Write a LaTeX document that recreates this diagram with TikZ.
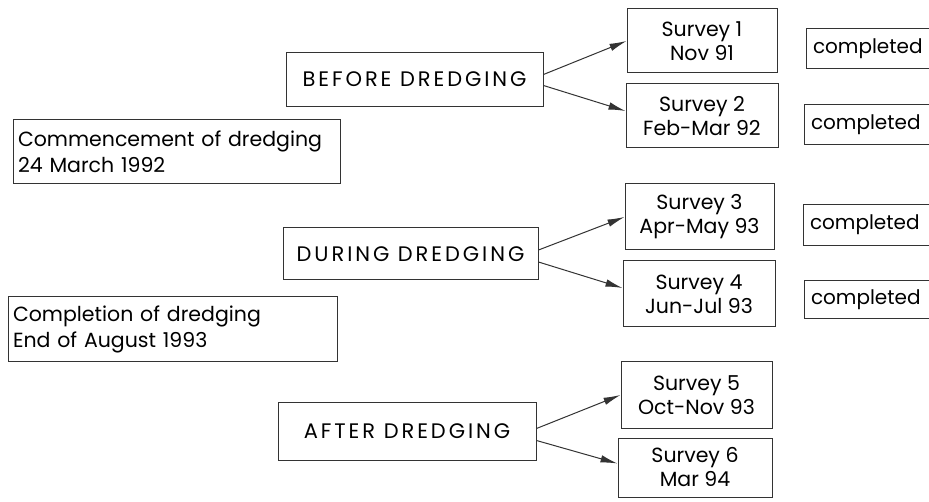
\documentclass[tikz,border=0pt]{standalone}
\usepackage{fontspec}
\setmainfont{Poppins}
\usetikzlibrary{arrows.meta}
\begin{document}
\begin{tikzpicture}[x=1pt,y=-1pt,
  box/.style={draw=black!80, line width=1pt, rectangle, inner sep=0pt},
  phase/.style={box, font=\fontsize{21}{24}\selectfont\addfontfeatures{LetterSpace=14}},
  survey/.style={box, align=center, font=\fontsize{20.5}{24}\selectfont},
  note/.style={box, inner xsep=5pt, align=left, font=\fontsize{20.5}{26}\selectfont},
  done/.style={rectangle, inner sep=0pt, inner xsep=6pt, align=left, font=\fontsize{20}{22}\selectfont},
  openbox/.style={draw=black!80, line width=1pt},
  arr/.style={draw=black!80, line width=1pt, -{Latex[length=17pt,width=7.5pt]}}]
\useasboundingbox (0,0) rectangle (929,502);
\fill[white] (0,0) rectangle (929,502);
% phase boxes
\node[phase, minimum width=257pt, minimum height=54pt] (before) at (414.5,79.5) {BEFORE DREDGING};
\node[phase, minimum width=255pt, minimum height=52pt] (during) at (410.5,254) {DURING DREDGING};
\node[phase, minimum width=258pt, minimum height=57pt] (after) at (407,431.5) {AFTER DREDGING};
% survey boxes
\node[survey, minimum width=150pt, minimum height=64pt] (s1) at (702,41) {Survey 1\\Nov 91};
\node[survey, minimum width=152pt, minimum height=64pt] (s2) at (702,116) {Survey 2\\Feb-Mar 92};
\node[survey, minimum width=149pt, minimum height=66pt] (s3) at (699.5,217) {Survey 3\\Apr-May 93};
\node[survey, minimum width=152pt, minimum height=66pt] (s4) at (699,294) {Survey 4\\Jun-Jul 93};
\node[survey, minimum width=151pt, minimum height=66pt] (s5) at (696.5,395) {Survey 5\\Oct-Nov 93};
\node[survey, minimum width=154pt, minimum height=59pt] (s6) at (695,467.5) {Survey 6\\Mar 94};
% completed boxes (their right side is cut off by the edge)
\node[done, text width=110pt, minimum height=39pt] (c1) at (868,48.5) {completed};
\node[done, text width=112pt, minimum height=39pt] (c2) at (867,124.5) {completed};
\node[done, text width=113pt, minimum height=40pt] (c3) at (866.5,225) {completed};
\node[done, text width=112pt, minimum height=37pt] (c4) at (867,299.5) {completed};
\foreach \c in {c1,c2,c3,c4}
  \draw[openbox] (\c.north east) -- (\c.north west) -- (\c.south west) -- (\c.south east);
% notes
\node[note, text width=317pt, minimum height=64pt] (comm) at (176.5,152) {Commencement of dredging\\24 March 1992};
\node[note, text width=319pt, minimum height=65pt] (compl) at (172.5,329.5) {Completion of dredging\\End of August 1993};
% arrows
\draw[arr] ([yshift=5pt]before.east) -- (s1.west);
\draw[arr] ([yshift=-6pt]before.east) -- ([yshift=5pt]s2.west);
\draw[arr] ([yshift=4pt]during.east) -- (s3.west);
\draw[arr] ([yshift=-8pt]during.east) -- ([yshift=6pt]s4.west);
\draw[arr] ([yshift=3pt]after.east) -- (s5.west);
\draw[arr] ([yshift=-9pt]after.east) -- ([yshift=4pt]s6.west);
\end{tikzpicture}
\end{document}
